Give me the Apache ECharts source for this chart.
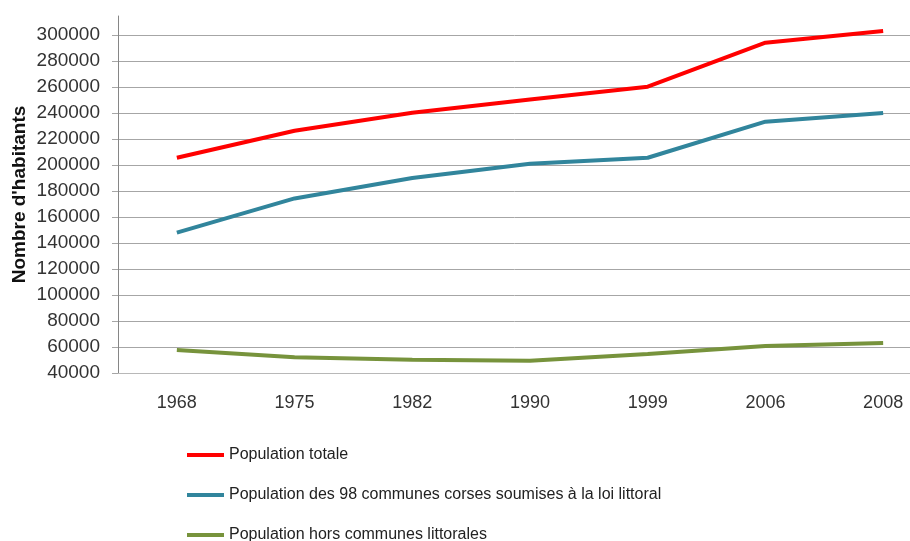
<!DOCTYPE html>
<html>
<head>
<meta charset="utf-8">
<script src="https://cdn.jsdelivr.net/npm/echarts@6/dist/echarts.min.js"></script>
<style>html,body{margin:0;padding:0;background:#fff}#c{width:910px;height:541px}</style>
</head>
<body>
<div id="c"></div>
<script>
var years = ['1968', '1975', '1982', '1990', '1999', '2006', '2008'];
var popTotale = [205600, 226400, 240200, 250400, 260200, 294100, 303000];
var popLittoral = [148000, 174300, 190000, 200900, 205600, 233300, 240000];
var popHors = [57600, 52100, 50200, 49500, 54600, 60800, 63000];
var seriesNames = ['Population totale', 'Population des 98 communes corses soumises à la loi littoral', 'Population hors communes littorales'];
var yTitle = "Nombre d'habitants";

var chart = echarts.init(document.getElementById('c'), null, {renderer: 'canvas'});
var font = 'Liberation Sans';
var legendTops = [447, 487, 527];
var legends = seriesNames.map(function(n, i){
  return {
    orient: 'horizontal',
    left: 187,
    top: legendTops[i],
    padding: 0,
    itemWidth: 37,
    itemHeight: 14,
    itemGap: 3,
    selectedMode: false,
    textStyle: {fontFamily: font, fontSize: 16, color: '#222'},
    data: [{name: n, icon: 'path://M0,5 L37,5 L37,9 L0,9 Z'}]
  };
});
chart.setOption({
  animation: false,
  backgroundColor: '#ffffff',
  grid: [
    {left: 118, width: 824, top: 35, height: 338, containLabel: false, outerBoundsMode: 'none'},
    {left: 118, width: 824, top: 16, height: 357, containLabel: false, outerBoundsMode: 'none'}
  ],
  legend: legends,
  xAxis: [
    {
      type: 'category', gridIndex: 0, data: years, boundaryGap: true,
      axisLine: {show: true, lineStyle: {color: '#b8b8b8', width: 1}},
      axisTick: {show: false},
      axisLabel: {fontFamily: font, fontSize: 18, color: '#333', margin: 21},
      splitLine: {show: false}
    },
    {type: 'category', gridIndex: 1, show: false, data: years}
  ],
  yAxis: [
    {
      type: 'value', gridIndex: 0, min: 40000, max: 300000, interval: 20000,
      axisLine: {show: false},
      axisTick: {show: true, length: 6, lineStyle: {color: '#a6a6a6'}},
      axisLabel: {fontFamily: font, fontSize: 19, color: '#333', margin: 18, formatter: function(v){return String(v);}},
      splitLine: {show: true, lineStyle: {color: '#a6a6a6', width: 1}}
    },
    {
      type: 'value', gridIndex: 1, min: 0, max: 1,
      name: yTitle, nameLocation: 'middle', nameGap: 89, nameRotate: 90,
      nameTextStyle: {fontFamily: font, fontSize: 19, fontWeight: 'bold', color: '#111'},
      axisLine: {show: true, lineStyle: {color: '#868686', width: 1}},
      axisTick: {show: false}, axisLabel: {show: false}, splitLine: {show: false}
    }
  ],
  series: [
    {name: seriesNames[0], type: 'line', data: popTotale, symbol: 'none', clip: false, lineStyle: {color: '#ff0000', width: 4}, itemStyle: {color: '#ff0000'}, z: 5},
    {name: seriesNames[1], type: 'line', data: popLittoral, symbol: 'none', clip: false, lineStyle: {color: '#31859c', width: 4}, itemStyle: {color: '#31859c'}, z: 4},
    {name: seriesNames[2], type: 'line', data: popHors, symbol: 'none', clip: false, lineStyle: {color: '#77933c', width: 4}, itemStyle: {color: '#77933c'}, z: 3}
  ]
});
</script>
</body>
</html>
